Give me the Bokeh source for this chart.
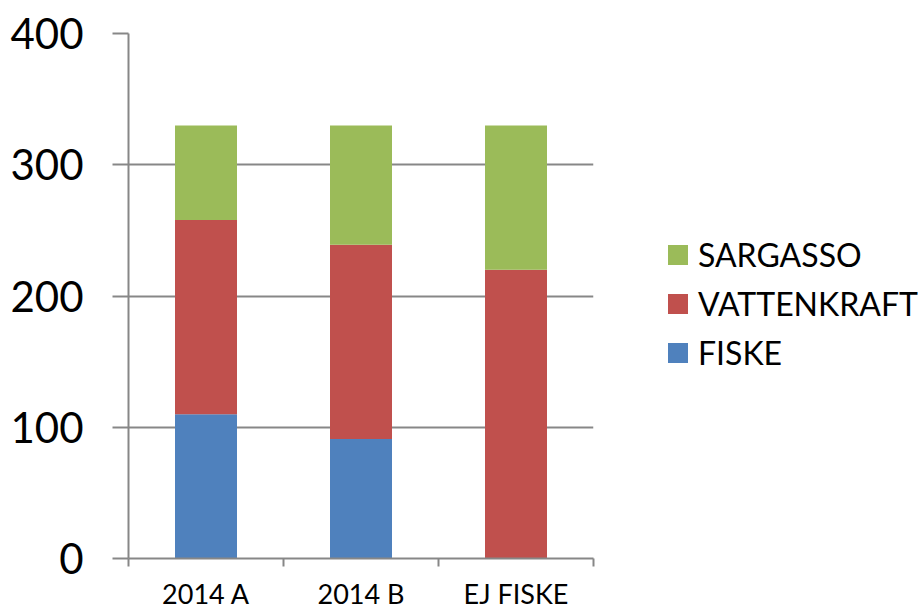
from bokeh.plotting import figure
from bokeh.models import (Range1d, FixedTicker, Legend, LegendItem, ColumnDataSource)
from bokeh.embed import file_html
from bokeh.resources import INLINE

categories = ["2014 A", "2014 B", "EJ FISKE"]
fiske = [110, 91, 0]
vattenkraft = [148, 148, 220]
sargasso = [72, 91, 110]
series = ["FISKE", "VATTENKRAFT", "SARGASSO"]
colors = ["#4F81BD", "#C0504D", "#9BBB59"]
y_ticks = [0, 100, 200, 300, 400]

FONT = "Lato"
GRID = "#878787"

xpos = [i + 0.5 for i in range(len(categories))]
src = ColumnDataSource(dict(x=xpos, FISKE=fiske, VATTENKRAFT=vattenkraft, SARGASSO=sargasso))

p = figure(frame_width=465, frame_height=525, output_backend="svg", toolbar_location=None,
           x_range=Range1d(0, len(categories)), y_range=Range1d(0, 400),
           min_border_left=128, min_border_top=33, min_border_bottom=52, min_border_right=0)
p.outline_line_color = None

renderers = p.vbar_stack(series, x="x", width=0.4, source=src, color=colors, line_color=None)

# axes
p.xaxis.ticker = FixedTicker(ticks=xpos, minor_ticks=list(range(len(categories) + 1)))
p.xaxis.major_label_overrides = {x: c for x, c in zip(xpos, categories)}
p.xaxis.major_tick_out = 0
p.xaxis.major_tick_in = 0
p.xaxis.minor_tick_out = 8
p.xaxis.minor_tick_in = 0
p.xaxis.minor_tick_line_color = GRID
p.xaxis.minor_tick_line_width = 2
p.xaxis.axis_line_color = GRID
p.xaxis.axis_line_width = 2
p.xaxis.major_label_text_font = FONT
p.xaxis.major_label_text_font_size = "27px"
p.xaxis.major_label_text_color = "black"
p.xaxis.major_label_standoff = 10

p.yaxis.ticker = FixedTicker(ticks=y_ticks, minor_ticks=[])
p.yaxis.major_tick_out = 16
p.yaxis.major_tick_in = 0
p.yaxis.major_tick_line_color = GRID
p.yaxis.major_tick_line_width = 2
p.yaxis.axis_line_color = GRID
p.yaxis.axis_line_width = 2
p.yaxis.major_label_text_font = FONT
p.yaxis.major_label_text_font_size = "42px"
p.yaxis.major_label_text_color = "black"
p.yaxis.major_label_standoff = 29

p.xgrid.grid_line_color = None
p.ygrid.grid_line_color = GRID
p.ygrid.grid_line_width = 2

items = [LegendItem(label=s, renderers=[r]) for s, r in zip(series, renderers)][::-1]
legend = Legend(items=items, location=(72, 186), orientation="vertical",
                label_text_font=FONT, label_text_font_size="32px", label_text_color="black",
                glyph_width=25, glyph_height=25, label_height=34, spacing=10,
                label_standoff=8, padding=0, margin=0,
                border_line_color=None, background_fill_alpha=0)
p.add_layout(legend, "right")

open("out.html", "w").write(file_html(p, INLINE))
